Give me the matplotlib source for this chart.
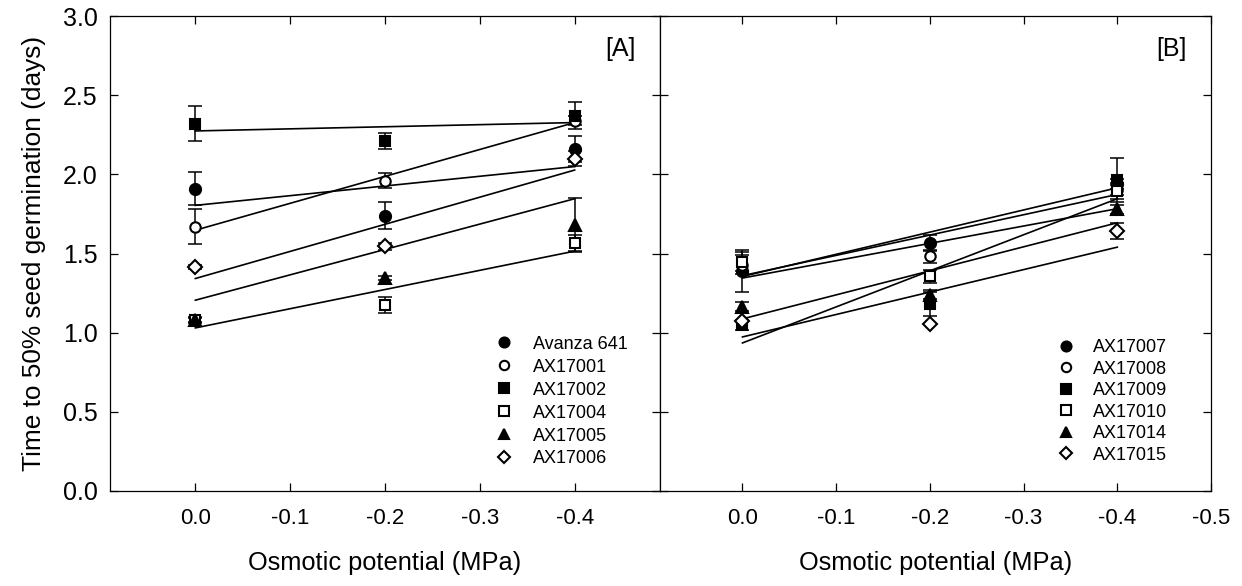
import matplotlib
matplotlib.use('Agg')
import matplotlib.pyplot as plt
from matplotlib.lines import Line2D

plt.rcParams['font.family'] = ['Liberation Sans', 'DejaVu Sans']

# ---------------- data ----------------
osmotic = [0.0, -0.2, -0.4]
fit_x = [0.0, -0.4]
x_ticks_a = [0.0, -0.1, -0.2, -0.3, -0.4]
x_ticks_b = [0.0, -0.1, -0.2, -0.3, -0.4, -0.5]
y_ticks = [0.0, 0.5, 1.0, 1.5, 2.0, 2.5, 3.0]

# Panel A
a_labels = ['Avanza 641', 'AX17001', 'AX17002', 'AX17004', 'AX17005', 'AX17006']
avanza_641 = [1.91, 1.74, 2.16]
avanza_641_err = [0.105, 0.085, 0.08]
avanza_641_fit = [1.804, 2.049]
ax17001 = [1.67, 1.96, 2.34]
ax17001_err = [0.11, 0.047, 0.03]
ax17001_fit = [1.647, 2.327]
ax17002 = [2.32, 2.21, 2.37]
ax17002_err = [0.11, 0.05, 0.085]
ax17002_fit = [2.274, 2.327]
ax17004 = [1.08, 1.175, 1.565]
ax17004_err = [0.02, 0.05, 0.05]
ax17004_fit = [1.03, 1.515]
ax17005 = [1.08, 1.345, 1.68]
ax17005_err = [0.015, 0.015, 0.17]
ax17005_fit = [1.205, 1.846]
ax17006 = [1.415, 1.545, 2.10]
ax17006_err = [0.01, 0.02, 0.05]
ax17006_fit = [1.342, 2.027]

# Panel B
b_labels = ['AX17007', 'AX17008', 'AX17009', 'AX17010', 'AX17014', 'AX17015']
ax17007 = [1.39, 1.567, 1.94]
ax17007_err = [0.13, 0.05, 0.03]
ax17007_fit = [1.355, 1.915]
ax17008 = [1.43, 1.483, 1.90]
ax17008_err = [0.06, 0.04, 0.03]
ax17008_fit = [1.36, 1.873]
ax17009 = [1.05, 1.183, 1.964]
ax17009_err = [0.03, 0.075, 0.14]
ax17009_fit = [0.935, 1.846]
ax17010 = [1.447, 1.356, 1.895]
ax17010_err = [0.06, 0.04, 0.05]
ax17010_fit = [1.345, 1.783]
ax17014 = [1.165, 1.24, 1.778]
ax17014_err = [0.03, 0.03, 0.03]
ax17014_fit = [1.087, 1.694]
ax17015 = [1.075, 1.055, 1.641]
ax17015_err = [0.0, 0.0, 0.05]
ax17015_fit = [0.973, 1.54]

a_means = [avanza_641, ax17001, ax17002, ax17004, ax17005, ax17006]
a_errs = [avanza_641_err, ax17001_err, ax17002_err, ax17004_err, ax17005_err, ax17006_err]
a_fits = [avanza_641_fit, ax17001_fit, ax17002_fit, ax17004_fit, ax17005_fit, ax17006_fit]
b_means = [ax17007, ax17008, ax17009, ax17010, ax17014, ax17015]
b_errs = [ax17007_err, ax17008_err, ax17009_err, ax17010_err, ax17014_err, ax17015_err]
b_fits = [ax17007_fit, ax17008_fit, ax17009_fit, ax17010_fit, ax17014_fit, ax17015_fit]

# ---------------- styles ----------------
markers = ['o', 'o', 's', 's', '^', 'D']
fills = ['black', 'white', 'black', 'white', 'black', 'white']
msizes = [8, 7.5, 7.5, 7.5, 8, 7]

fig = plt.figure(figsize=(12.42, 5.86), dpi=100)
W, H = 1242, 586
left_a, split, right_b, top, bottom = 110, 660, 1211, 16, 491
axA = fig.add_axes([left_a / W, 1 - bottom / H, (split - left_a) / W, (bottom - top) / H])
axB = fig.add_axes([split / W, 1 - bottom / H, (right_b - split) / W, (bottom - top) / H])


def draw_panel(ax, means, errs, fits, labels):
    handles = []
    for i, (m, e, f) in enumerate(zip(means, errs, fits)):
        ax.plot(fit_x, f, color='black', lw=1.2, zorder=2)
        ax.errorbar(osmotic, m, yerr=e, fmt='none', ecolor='black',
                    elinewidth=1.1, capsize=5, capthick=1.1, zorder=3)
        ax.plot(osmotic, m, linestyle='none', marker=markers[i], ms=msizes[i],
                mfc=fills[i], mec='black', mew=1.5, zorder=4)
        handles.append(Line2D([], [], linestyle='none', marker=markers[i],
                              ms=msizes[i] * 0.9, mfc=fills[i], mec='black', mew=1.5))
    ax.set_ylim(0, 3.0)
    ax.set_yticks(y_ticks)
    for sp in ax.spines.values():
        sp.set_linewidth(0.9)
    ax.tick_params(direction='in', length=6, width=0.9, top=True, right=True,
                   left=True, bottom=True)
    return handles


hA = draw_panel(axA, a_means, a_errs, a_fits, a_labels)
hB = draw_panel(axB, b_means, b_errs, b_fits, b_labels)

axA.set_xlim(0.09, -0.49)
axB.set_xlim(0.088, -0.5)
axA.set_xticks(x_ticks_a)
axA.set_xticklabels([f'{v:.1f}' if v == 0 else f'-{abs(v):.1f}' for v in x_ticks_a])
axB.set_xticks(x_ticks_b)
axB.set_xticklabels([f'{v:.1f}' if v == 0 else f'-{abs(v):.1f}' for v in x_ticks_b])
axA.set_yticklabels([f'{v:.1f}' for v in y_ticks])
axB.tick_params(labelleft=False)

for ax in (axA, axB):
    ax.tick_params(axis='x', labelsize=16, pad=12)
    ax.set_xlabel('Osmotic potential (MPa)', fontsize=18.3, labelpad=16)
axA.tick_params(axis='y', labelsize=18, pad=9)
axA.set_ylabel('Time to 50% seed germination (days)', fontsize=18.9, labelpad=12)

axA.text(0.955, 0.93, '[A]', transform=axA.transAxes, ha='right', va='center', fontsize=18)
axB.text(0.955, 0.93, '[B]', transform=axB.transAxes, ha='right', va='center', fontsize=18)

axA.legend(hA, a_labels, loc='upper left', bbox_to_anchor=(0.70, 0.327), frameon=False,
           fontsize=13, handlelength=1.0, handletextpad=1.1, labelspacing=0.33,
           borderpad=0, borderaxespad=0)
axB.legend(hB, b_labels, loc='upper left', bbox_to_anchor=(0.72, 0.32), frameon=False,
           fontsize=13, handlelength=1.0, handletextpad=1.0, labelspacing=0.25,
           borderpad=0, borderaxespad=0)

fig.savefig('out.png', dpi=100)
